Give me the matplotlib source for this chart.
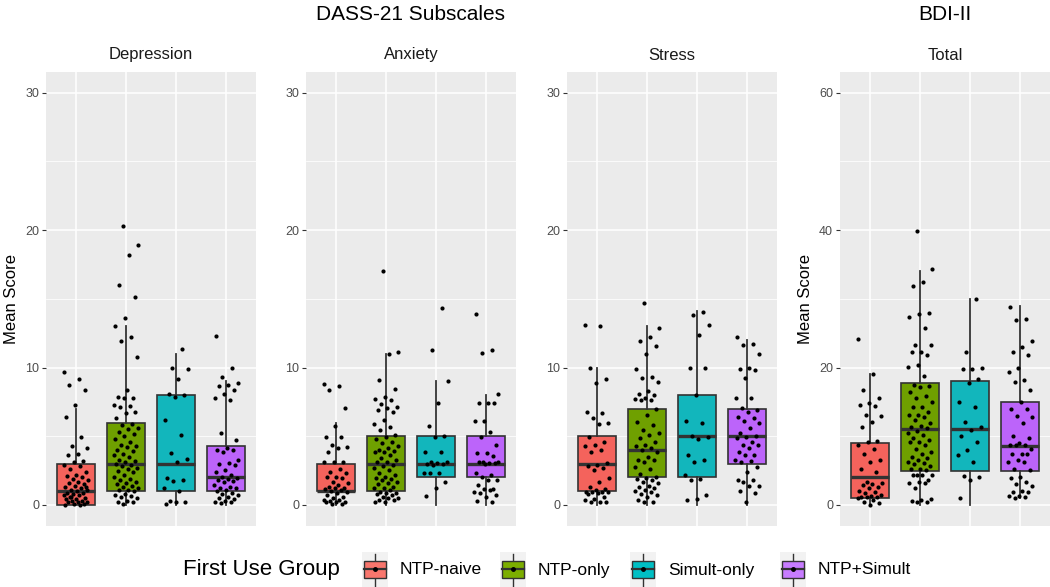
import matplotlib.pyplot as plt
from matplotlib.patches import Rectangle
import numpy as np

plt.rcParams['font.family'] = ['Liberation Sans', 'DejaVu Sans']

groups = ['NTP-naive', 'NTP-only', 'Simult-only', 'NTP+Simult']
box_colors = ['#F4635C', '#6FA000', '#12B6BC', '#BC64FA']
key_colors = ['#F8766D', '#7CAE00', '#00BFC4', '#C77CFF']
panel_names = ['Depression', 'Anxiety', 'Stress', 'Total']

# box statistics (one value per group)
dep_q1 = [0, 1, 1, 1]
dep_med = [1, 3, 3, 2]
dep_q3 = [3, 6, 8, 4.3]
dep_lo = [0, 0, 0, 0]
dep_hi = [7, 13, 11, 9]

anx_q1 = [1, 1, 2, 2]
anx_med = [1, 3, 3, 3]
anx_q3 = [3, 5, 5, 5]
anx_lo = [0, 0, 0, 0]
anx_hi = [6, 11, 9, 8]

str_q1 = [1, 2, 2, 3]
str_med = [3, 4, 5, 5]
str_q3 = [5, 7, 8, 7]
str_lo = [0, 0, 0, 0]
str_hi = [10, 13, 14.1, 12]

bdi_q1 = [1, 5, 5, 5]
bdi_med = [4, 11, 11, 8.6]
bdi_q3 = [9, 17.8, 18, 15]
bdi_lo = [0, 0, 0, 1]
bdi_hi = [19, 34, 30, 29]

# individual scores (jittered points)
dep_naive = [9.65, 9.16, 8.73, 8.39, 7.25, 6.38, 4.95, 4.27, 4.12, 3.73, 3.64, 3.2, 3.15,
             2.9, 2.8, 2.6, 2.4, 2.2, 2.1, 2.0, 1.9, 1.8, 1.7, 1.6, 1.5, 1.4, 1.3, 1.2, 1.1,
             1.1, 1.0, 0.9, 0.9, 0.8, 0.7, 0.7, 0.6, 0.5, 0.4, 0.4, 0.3, 0.3, 0.2, 0.2, 0.2,
             0.1, 0.1, 0.0, 0.0, 0.6, 1.3]
dep_ntp = [20.3, 18.9, 18.2, 16.0, 15.1, 13.6, 13.0, 12.2, 11.9, 10.8, 8.4, 7.88, 7.8, 7.76,
           7.27, 7.2, 7.15, 6.79, 6.67, 6.3, 5.9, 5.8, 5.6, 5.5, 5.3, 5.2, 5.0, 4.8, 4.6, 4.4,
           4.3, 4.2, 4.0, 3.9, 3.7, 3.6, 3.5, 3.3, 3.2, 3.1, 3.0, 2.9, 2.8, 2.7, 2.6, 2.5,
           2.4, 2.2, 2.0, 1.9, 1.8, 1.7, 1.6, 1.5, 1.4, 1.3, 1.2, 1.1, 1.1, 1.0, 0.78, 0.73,
           0.65, 0.6, 0.48, 0.29, 0.24, 0.24, 0.1]
dep_sim = [11.35, 10.0, 9.9, 9.16, 8.05, 8.0, 7.88, 6.18, 5.09, 3.76, 3.32, 3.15, 1.94, 1.82,
           1.77, 1.21, 1.02, 0.29, 0.24, 0.19, 0.1]
dep_both = [12.3, 9.94, 9.3, 8.85, 8.73, 8.65, 8.39, 8.05, 7.76, 7.64, 5.21, 4.73, 4.12, 4.0,
            4.0, 3.83, 3.27, 3.03, 2.96, 2.91, 2.55, 2.42, 2.18, 2.06, 1.94, 1.87, 1.82, 1.75,
            1.7, 1.45, 1.33, 1.26, 1.21, 1.09, 1.02, 0.85, 0.78, 0.73, 0.6, 0.48, 0.44, 0.29,
            0.24, 0.19, 0.12]

anx_naive = [8.8, 8.65, 8.36, 7.03, 5.77, 4.92, 4.92, 4.36, 4.19, 4.12, 3.88, 3.15, 3.15,
             3.15, 2.62, 2.42, 2.3, 2.06, 2.01, 1.94, 1.7, 1.58, 1.45, 1.33, 1.26, 1.21,
             1.14, 1.09, 1.02, 0.97, 0.85, 0.73, 0.6, 0.48, 0.36, 0.34, 0.29, 0.24, 0.19,
             0.19, 0.1, 0.05]
anx_ntp = [17.0, 11.15, 10.96, 9.09, 8.41, 7.88, 7.68, 7.64, 7.35, 7.1, 7.03, 6.91, 6.79,
           6.18, 5.87, 5.7, 5.45, 5.09, 4.92, 4.8, 4.6, 4.5, 4.29, 4.12, 4.0, 3.93, 3.88,
           3.83, 3.64, 3.4, 3.3, 3.15, 3.1, 2.91, 2.8, 2.67, 2.55, 2.3, 2.18, 2.0, 1.94, 1.87,
           1.82, 1.7, 1.58, 1.5, 1.33, 1.26, 1.21, 1.1, 0.97, 0.9, 0.85, 0.78, 0.73, 0.6,
           0.53, 0.48, 0.36, 0.36, 0.24, 0.19]
anx_sim = [14.3, 11.3, 9.04, 7.39, 5.75, 5.04, 4.97, 3.88, 3.83, 3.15, 3.15, 3.03, 2.96, 2.96,
           2.91, 2.35, 2.3, 2.35, 1.7, 1.26, 0.68]
anx_both = [13.9, 11.27, 11.03, 8.07, 7.39, 7.39, 7.39, 6.11, 6.11, 5.33, 4.97, 4.36, 3.8,
            3.76, 3.56, 3.15, 3.1, 3.03, 3.15, 3.03, 2.96, 2.3, 2.18, 2.06, 1.82, 1.82, 1.45,
            1.16, 1.16, 0.97, 1.09, 0.85, 0.73, 0.6, 0.32, 0.19]

str_naive = [13.1, 13.0, 10.0, 9.16, 8.9, 6.79, 6.67, 6.35, 6.0, 5.87, 4.97, 4.6, 4.36, 4.29,
             4.0, 3.83, 3.03, 2.91, 2.84, 2.67, 2.55, 1.94, 1.7, 1.33, 1.16, 1.09, 0.97,
             0.97, 0.97, 0.92, 0.85, 0.78, 0.6, 0.44, 0.36, 0.24, 0.24, 0.19]
str_ntp = [14.7, 12.9, 12.2, 11.9, 11.6, 11.0, 9.87, 9.33, 9.26, 8.97, 8.29, 8.07, 8.0, 7.76,
           7.71, 7.64, 7.64, 6.98, 6.55, 6.06, 5.82, 5.45, 5.21, 5.09, 4.9, 4.6, 4.36, 4.29,
           4.12, 4.0, 3.88, 3.52, 3.27, 3.27, 3.15, 2.79, 2.62, 2.23, 2.06, 1.94, 1.87, 1.82,
           1.7, 1.58, 1.41, 1.33, 1.21, 1.09, 1.02, 0.97, 0.8, 0.73, 0.6, 0.36, 0.24, 0.19]
str_sim = [14.06, 13.8, 13.1, 12.4, 9.99, 9.94, 8.0, 6.11, 5.94, 5.04, 4.97, 4.8, 3.64, 3.27,
           3.15, 2.18, 1.87, 1.82, 0.73, 0.41, 0.36]
str_both = [12.2, 11.7, 11.64, 10.96, 9.94, 9.87, 9.82, 9.26, 7.8, 7.8, 7.03, 6.91, 6.79,
            6.38, 6.35, 6.11, 6.0, 5.58, 5.21, 5.04, 4.97, 4.85, 4.6, 4.36, 4.36, 4.12, 3.83,
            3.64, 3.64, 3.27, 3.2, 3.15, 2.79, 2.42, 1.82, 1.82, 1.7, 1.41, 1.41, 1.02, 0.9,
            0.19]

bdi_naive = [24.2, 19.05, 16.7, 15.5, 14.8, 14.6, 14.4, 13.1, 12.9, 12.1, 11.4, 9.3, 9.2,
             8.7, 8.2, 7.4, 6.5, 6.3, 5.3, 4.8, 3.4, 3.2, 3.0, 2.9, 2.67, 2.4, 2.0, 1.94,
             1.7, 1.45, 1.36, 1.2, 1.2, 1.2, 0.97, 0.73, 0.48, 0.24, 0.0]
bdi_ntp = [39.9, 34.4, 32.5, 31.8, 27.9, 27.8, 27.4, 25.8, 23.3, 23.3, 22.3, 22.2, 21.8, 20.3,
           20.1, 18.7, 17.5, 17.3, 17.1, 16.5, 15.8, 15.6, 15.0, 14.3, 14.2, 13.5, 13.1, 13.1,
           12.8, 12.4, 11.9, 11.5, 11.3, 11.2, 10.7, 10.5, 10.2, 9.8, 9.5, 9.2, 9.2, 8.7, 8.2,
           7.7, 7.4, 7.0, 6.8, 6.5, 6.2, 6.1, 5.9, 5.6, 5.3, 5.3, 5.1, 4.4, 4.4, 4.4, 4.4,
           3.6, 3.4, 3.2, 3.2, 2.4, 0.87, 0.73, 0.58, 0.48, 0.39]
bdi_sim = [30.0, 22.3, 19.9, 19.8, 19.8, 18.3, 17.7, 15.0, 14.2, 12.1, 11.4, 10.9, 10.1, 9.2,
           8.0, 7.2, 6.2, 4.2, 4.1, 3.6, 1.07]
bdi_both = [28.75, 27.0, 26.9, 23.9, 23.0, 22.2, 21.8, 19.9, 19.3, 18.2, 17.9, 16.7, 15.0,
            14.0, 14.0, 12.9, 12.8, 11.9, 10.1, 9.7, 9.0, 8.8, 8.7, 8.7, 8.2, 7.4, 7.4, 7.4,
            6.5, 6.3, 6.2, 5.3, 5.1, 4.1, 3.9, 3.4, 3.0, 2.8, 2.1, 1.94, 1.84, 1.3, 1.3, 1.2,
            0.97]

stats = [(dep_q1, dep_med, dep_q3, dep_lo, dep_hi),
         (anx_q1, anx_med, anx_q3, anx_lo, anx_hi),
         (str_q1, str_med, str_q3, str_lo, str_hi),
         (bdi_q1, bdi_med, bdi_q3, bdi_lo, bdi_hi)]
points = [[dep_naive, dep_ntp, dep_sim, dep_both],
          [anx_naive, anx_ntp, anx_sim, anx_both],
          [str_naive, str_ntp, str_sim, str_both],
          [bdi_naive, bdi_ntp, bdi_sim, bdi_both]]

W, H = 1050, 587
fig = plt.figure(figsize=(10.5, 5.87), dpi=100)

# panel rectangles in pixels (left, right); top/bottom shared
lefts = [46, 306, 567, 840]
pw = 210
top, bottom = 72, 525.6

axes = []
for k in range(4):
    ax = fig.add_axes([lefts[k] / W, 1 - bottom / H, pw / W, (bottom - top) / H])
    axes.append(ax)
    ax.set_facecolor('#EBEBEB')
    q1, med, q3, lo, hi = stats[k]
    st = [dict(q1=q1[i], med=med[i], q3=q3[i], whislo=lo[i], whishi=hi[i], fliers=[])
          for i in range(4)]
    bp = ax.bxp(st, positions=[1, 2, 3, 4], widths=0.75, patch_artist=True, showcaps=False,
                boxprops=dict(edgecolor='#333333', linewidth=1.2),
                medianprops=dict(color='#333333', linewidth=2.4),
                whiskerprops=dict(color='#333333', linewidth=1.3),
                manage_ticks=False)
    for patch, c in zip(bp['boxes'], box_colors):
        patch.set_facecolor(c)
    for i, pts in enumerate(points[k]):
        pts = np.array(pts)
        jit = ((np.arange(len(pts)) * 0.6180339887 + 0.37 * i) % 1 - 0.5) * 0.5
        ax.scatter(i + 1 + jit, pts, s=9, color='black', linewidths=0, zorder=5)

    scale = 2 if k == 3 else 1
    ax.set_xlim(0.4, 4.6)
    ax.set_ylim(-1.5 * scale, 31.5 * scale)
    ax.set_xticks([1, 2, 3, 4])
    ax.set_yticks(np.arange(0, 31, 10) * scale)
    ax.set_yticks(np.arange(5, 30, 10) * scale, minor=True)
    ax.set_axisbelow(True)
    ax.grid(which='major', color='white', linewidth=1.1)
    ax.grid(which='minor', axis='y', color='white', linewidth=0.55)
    for s in ax.spines.values():
        s.set_visible(False)
    ax.tick_params(axis='x', length=0, labelbottom=False)
    ax.tick_params(axis='y', which='major', length=3, width=0.8, color='#333333',
                   labelsize=9, labelcolor='#4D4D4D', pad=2)
    ax.tick_params(axis='y', which='minor', length=0)
    ax.set_title(panel_names[k], fontsize=12, color='#1A1A1A', pad=9)

axes[0].set_ylabel('Mean Score', fontsize=12, labelpad=4)
axes[3].set_ylabel('Mean Score', fontsize=12, labelpad=4)

# overlay for titles and legend, in pixel coordinates
ov = fig.add_axes([0, 0, 1, 1], zorder=-1)
ov.set_xlim(0, W)
ov.set_ylim(H, 0)
ov.axis('off')
ov.text(411, 15, 'DASS-21 Subscales', fontsize=15, ha='center', va='center')
ov.text(945, 15, 'BDI-II', fontsize=15, ha='center', va='center')

ov.text(183, 570, 'First Use Group', fontsize=16, ha='left', va='center')
label_x = [400, 538, 668, 818]
for i, g in enumerate(groups):
    kx = label_x[i] - 38
    ov.add_patch(Rectangle((kx, 552), 26, 35, facecolor='#F2F2F2', edgecolor='none'))
    ov.plot([kx + 13, kx + 13], [554, 586], color='#333333', linewidth=1.0)
    ov.add_patch(Rectangle((kx + 2, 560.5), 22, 17.5, facecolor=key_colors[i],
                           edgecolor='#333333', linewidth=1.0, zorder=3))
    ov.plot([kx + 2, kx + 24], [569.3, 569.3], color='#333333', linewidth=1.6, zorder=4)
    ov.plot([kx + 13], [569.3], 'o', color='black', markersize=2.5, zorder=5)
    ov.text(label_x[i], 570, g, fontsize=12.5, ha='left', va='center')

fig.savefig('out.png', dpi=100)
